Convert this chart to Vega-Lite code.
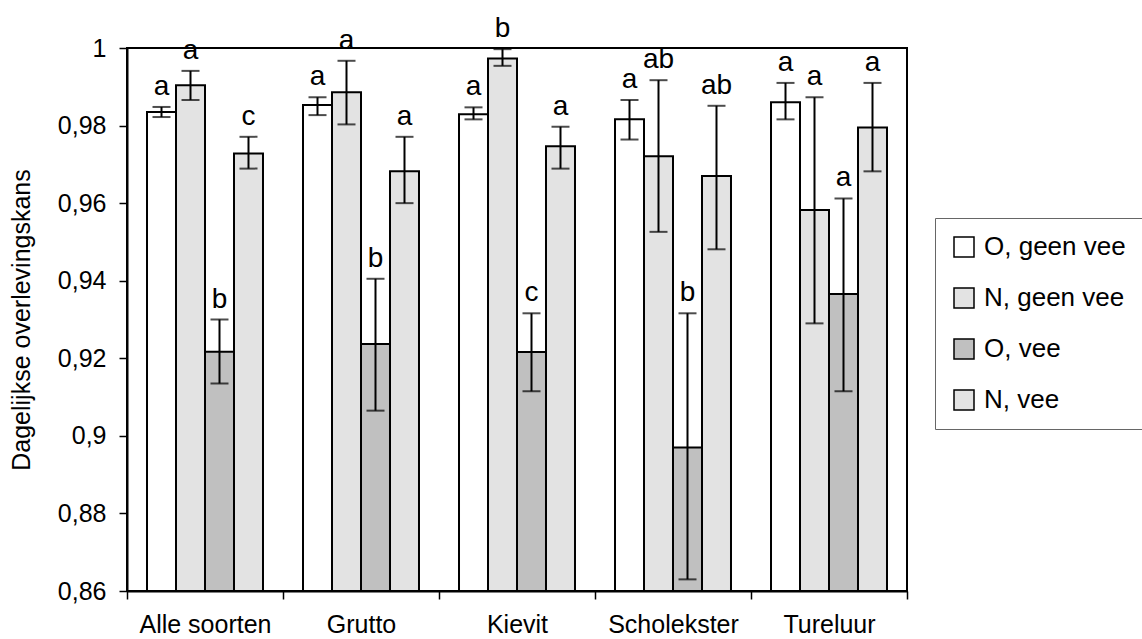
{
  "$schema": "https://vega.github.io/schema/vega-lite/v6.json",
  "autosize": {"type": "none"},
  "width": 780,
  "height": 543,
  "padding": {"left": 127, "top": 48, "right": 235, "bottom": 48},
  "background": "white",
  "config": {
    "font": "Liberation Sans",
    "view": {"stroke": "black", "strokeWidth": 2},
    "axis": {"labelFont": "Liberation Sans", "titleFont": "Liberation Sans", "labelColor": "black", "titleColor": "black", "domainColor": "black", "tickColor": "black"}
  },
  "data": {
    "values": [
      {"cat": "Alle soorten", "grp": "O, geen vee", "v": 0.9835, "lo": 0.9822, "hi": 0.9848, "sig": "a"},
      {"cat": "Alle soorten", "grp": "N, geen vee", "v": 0.9904, "lo": 0.9866, "hi": 0.9941, "sig": "a"},
      {"cat": "Alle soorten", "grp": "O, vee", "v": 0.9217, "lo": 0.9135, "hi": 0.9300, "sig": "b"},
      {"cat": "Alle soorten", "grp": "N, vee", "v": 0.9728, "lo": 0.9689, "hi": 0.9771, "sig": "c"},
      {"cat": "Grutto", "grp": "O, geen vee", "v": 0.9853, "lo": 0.9827, "hi": 0.9873, "sig": "a"},
      {"cat": "Grutto", "grp": "N, geen vee", "v": 0.9886, "lo": 0.9803, "hi": 0.9967, "sig": "a"},
      {"cat": "Grutto", "grp": "O, vee", "v": 0.9237, "lo": 0.9065, "hi": 0.9405, "sig": "b"},
      {"cat": "Grutto", "grp": "N, vee", "v": 0.9682, "lo": 0.9600, "hi": 0.9771, "sig": "a"},
      {"cat": "Kievit", "grp": "O, geen vee", "v": 0.9829, "lo": 0.9816, "hi": 0.9847, "sig": "a"},
      {"cat": "Kievit", "grp": "N, geen vee", "v": 0.9973, "lo": 0.9954, "hi": 0.9997, "sig": "b"},
      {"cat": "Kievit", "grp": "O, vee", "v": 0.9216, "lo": 0.9115, "hi": 0.9316, "sig": "c"},
      {"cat": "Kievit", "grp": "N, vee", "v": 0.9747, "lo": 0.9689, "hi": 0.9797, "sig": "a"},
      {"cat": "Scholekster", "grp": "O, geen vee", "v": 0.9816, "lo": 0.9764, "hi": 0.9866, "sig": "a"},
      {"cat": "Scholekster", "grp": "N, geen vee", "v": 0.9721, "lo": 0.9526, "hi": 0.9917, "sig": "ab"},
      {"cat": "Scholekster", "grp": "O, vee", "v": 0.8970, "lo": 0.8630, "hi": 0.9316, "sig": "b"},
      {"cat": "Scholekster", "grp": "N, vee", "v": 0.9670, "lo": 0.9481, "hi": 0.9851, "sig": "ab"},
      {"cat": "Tureluur", "grp": "O, geen vee", "v": 0.9860, "lo": 0.9816, "hi": 0.9910, "sig": "a"},
      {"cat": "Tureluur", "grp": "N, geen vee", "v": 0.9582, "lo": 0.9290, "hi": 0.9873, "sig": "a"},
      {"cat": "Tureluur", "grp": "O, vee", "v": 0.9366, "lo": 0.9115, "hi": 0.9612, "sig": "a"},
      {"cat": "Tureluur", "grp": "N, vee", "v": 0.9795, "lo": 0.9682, "hi": 0.9910, "sig": "a"}
    ]
  },
  "encoding": {
    "x": {
      "field": "cat", "type": "nominal",
      "sort": ["Alle soorten", "Grutto", "Kievit", "Scholekster", "Tureluur"],
      "scale": {"paddingInner": 0, "paddingOuter": 0},
      "axis": {"title": null, "labelAngle": 0, "labelFontSize": 25, "labelPadding": 13, "tickBand": "extent", "tickSize": 8, "tickWidth": 1.5, "domainWidth": 2}
    },
    "xOffset": {
      "field": "grp", "type": "nominal",
      "sort": ["O, geen vee", "N, geen vee", "O, vee", "N, vee"],
      "scale": {"paddingInner": 0, "paddingOuter": 0.69}
    }
  },
  "layer": [
    {
      "mark": {"type": "bar", "stroke": "black", "strokeWidth": 2},
      "encoding": {
        "y": {
          "field": "v", "type": "quantitative",
          "scale": {"domain": [0.86, 1], "zero": false, "nice": false},
          "axis": {"title": "Dagelijkse overlevingskans", "titleFontSize": 25, "titleFontWeight": "normal", "titlePadding": 23, "labelFontSize": 25, "labelPadding": 13, "tickSize": 8, "tickWidth": 1.5, "domainWidth": 2, "grid": false, "values": [0.86, 0.88, 0.9, 0.92, 0.94, 0.96, 0.98, 1], "labelExpr": "replace(format(datum.value, '.2~f'), '.', ',')"}
        },
        "y2": {"datum": 0.86},
        "fill": {
          "field": "grp", "type": "nominal",
          "sort": ["O, geen vee", "N, geen vee", "O, vee", "N, vee"],
          "scale": {"domain": ["O, geen vee", "N, geen vee", "O, vee", "N, vee"], "range": ["#ffffff", "#e3e3e3", "#c0c0c0", "#e3e3e3"]},
          "legend": {
            "title": null, "orient": "none", "legendX": 808, "legendY": 170,
            "symbolType": "square", "symbolSize": 400, "symbolStrokeColor": "black", "symbolStrokeWidth": 1.5, "symbolOpacity": 1,
            "labelFontSize": 26, "labelColor": "black", "labelOffset": 7, "rowPadding": 25,
            "padding": 16, "strokeColor": "#666666", "fillColor": "white", "labelLimit": 400
          }
        }
      }
    },
    {
      "mark": {"type": "rule", "color": "black", "strokeWidth": 2},
      "encoding": {"y": {"field": "lo", "type": "quantitative"}, "y2": {"field": "hi"}}
    },
    {
      "mark": {"type": "tick", "color": "black", "orient": "horizontal", "size": 18, "thickness": 2},
      "encoding": {"y": {"field": "lo", "type": "quantitative"}}
    },
    {
      "mark": {"type": "tick", "color": "black", "orient": "horizontal", "size": 18, "thickness": 2},
      "encoding": {"y": {"field": "hi", "type": "quantitative"}}
    },
    {
      "mark": {"type": "text", "fontSize": 28, "color": "black", "baseline": "alphabetic", "dy": -12},
      "encoding": {"y": {"field": "hi", "type": "quantitative"}, "text": {"field": "sig"}}
    }
  ]
}
